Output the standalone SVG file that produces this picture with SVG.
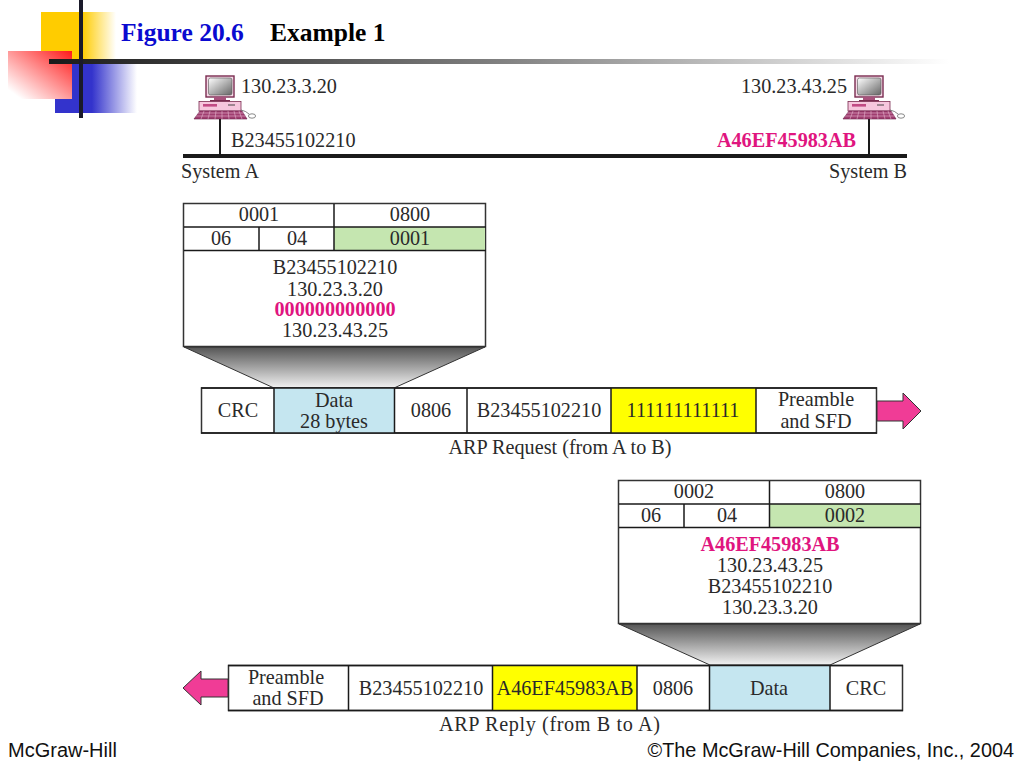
<svg xmlns="http://www.w3.org/2000/svg" width="1024" height="768" viewBox="0 0 1024 768">
<style>
text{font-family:"Liberation Serif","Times New Roman",serif;font-size:20.2px;fill:#2a2a2a}
.m{text-anchor:middle}
.e{text-anchor:end}
.p{fill:#e0157f;font-weight:bold}
.s{font-family:"Liberation Sans",Arial,sans-serif;font-size:20px;fill:#111}
.t{font-size:25.5px;font-weight:bold}
.c{fill:#fff;stroke:#333;stroke-width:1.5}
.ln{stroke:#1a1a1a;fill:none}
</style>
<defs>
<linearGradient id="gy"><stop offset="0.55" stop-color="#ffcc00"/><stop offset="1" stop-color="#ffcc00" stop-opacity="0"/></linearGradient>
<linearGradient id="gb"><stop offset="0.45" stop-color="#3333cc"/><stop offset="1" stop-color="#3333cc" stop-opacity="0"/></linearGradient>
<linearGradient id="gr" x1="1" y1="0" x2="0" y2="1"><stop offset="0" stop-color="#ff1a1a"/><stop offset="0.9" stop-color="#ff1a1a" stop-opacity="0"/></linearGradient>
<linearGradient id="gl"><stop offset="0" stop-color="#1a1a1a"/><stop offset="0.5" stop-color="#808080"/><stop offset="1" stop-color="#fff"/></linearGradient>
<linearGradient id="gf" x1="0" y1="0" x2="0" y2="1"><stop offset="0" stop-color="#555"/><stop offset="1" stop-color="#f2f2f2"/></linearGradient>
<linearGradient id="gs" x1="0" y1="0" x2="1" y2="1"><stop offset="0" stop-color="#fff"/><stop offset="1" stop-color="#666"/></linearGradient>
<g id="pc">
<rect x="11" y="0" width="28" height="21" fill="#f5d9e6" stroke="#7a2c50" stroke-width="1.400"/>
<rect x="13.500" y="2" width="23.500" height="17" rx="2" fill="url(#gs)" stroke="#555" stroke-width="0.6"/>
<rect x="19" y="21" width="12" height="3" fill="#a8527c"/>
<rect x="15" y="24" width="20" height="1.600" fill="#7a2c50"/>
<rect x="4" y="25.500" width="42" height="9.500" fill="#f6c6dd" stroke="#7a2c50" stroke-width="0.8"/>
<rect x="8" y="28" width="14" height="2.600" fill="#c24a84"/>
<path d="M33 29h7" stroke="#444" stroke-width="1"/>
<path d="M5 35h42l5 8H-1z" fill="#a03e70" stroke="#6a2048" stroke-width="0.6"/>
<path d="M3 37h46M1 40h50M9 35l-3 8M15 35l-2 8M21 35l-1 8M27 35v8M33 35l1 8M39 35l2 8M44 35l3 8" stroke="#f0c8dc" stroke-width="0.5"/>
<path d="M46 34q5 1 8 4" stroke="#555" fill="none" stroke-width="0.7"/>
<ellipse cx="57" cy="40" rx="3.600" ry="2.200" fill="#fff" stroke="#555" stroke-width="0.7"/>
</g>
</defs>

<g id="decor">
<rect x="41" y="12" width="75" height="48" fill="url(#gy)"/>
<rect x="55" y="62" width="82" height="51" fill="url(#gb)"/>
<rect x="8" y="51" width="64" height="48" fill="#fff"/>
<rect x="8" y="51" width="64" height="48" fill="url(#gr)"/>
<rect x="49" y="59" width="900" height="5" fill="url(#gl)"/>
<rect x="79" y="0" width="4" height="118" fill="#1a1a2a"/>
</g>

<text id="title1" class="t" x="121" y="41" style="fill:#0a0ad0">Figure 20.6</text>
<text id="title2" class="t" x="270" y="41" style="fill:#000">Example 1</text>

<g id="connectors">
<path class="ln" stroke-width="4" d="M183 156H907"/>
<path class="ln" stroke-width="2" d="M220 119V156M869 119V156"/>
</g>

<g id="system-a">
<use href="#pc" x="195" y="76"/>
<text x="241" y="93">130.23.3.20</text>
<text x="231" y="147">B23455102210</text>
<text x="181" y="178">System A</text>
</g>
<g id="system-b">
<use href="#pc" x="844" y="76"/>
<text x="847" y="93" class="e">130.23.43.25</text>
<text x="856" y="147" class="e p">A46EF45983AB</text>
<text x="907" y="178" class="e">System B</text>
</g>

<g id="request-packet">
<path d="M184 347H485L394 388H274Z" fill="url(#gf)" stroke="#333" stroke-width="1"/>
<rect class="c" x="183.500" y="203.500" width="302" height="143"/>
<rect x="334" y="227" width="151" height="23" fill="#c5e6b0"/>
<path class="ln" stroke-width="1.500" d="M184 227H486M184 250.500H486M334 204V250M259 227V250"/>
<text class="m" x="259" y="221">0001</text>
<text class="m" x="410" y="221">0800</text>
<text class="m" x="221" y="245">06</text>
<text class="m" x="297" y="245">04</text>
<text class="m" x="410" y="245">0001</text>
<text class="m" x="335" y="274">B23455102210</text>
<text class="m" x="335" y="296">130.23.3.20</text>
<text class="m p" x="335" y="316">000000000000</text>
<text class="m" x="335" y="337">130.23.43.25</text>
</g>

<g id="request-frame">
<rect class="c" x="201.500" y="388" width="675" height="45"/>
<rect x="274" y="388" width="120" height="45" fill="#c5e6f0"/>
<rect x="611" y="388" width="145" height="45" fill="#ffff00"/>
<path class="ln" stroke-width="1.500" d="M201 388H877M201 433H877M274 388V433M394.500 388V433M467 388V433M611 388V433M756 388V433"/>
<text class="m" x="238" y="417">CRC</text>
<text class="m" x="334" y="407">Data</text>
<text class="m" x="334" y="428">28 bytes</text>
<text class="m" x="431" y="417">0806</text>
<text class="m" x="539" y="417">B23455102210</text>
<text class="m" x="683" y="417">111111111111</text>
<text class="m" x="816" y="406">Preamble</text>
<text class="m" x="816" y="428">and SFD</text>
<path d="M877 401H903V393L921 411L903 429V421H877Z" fill="#f03c96" stroke="#333" stroke-width="1"/>
<text class="m" x="560" y="454">ARP Request (from A to B)</text>
</g>

<g id="reply-packet">
<path d="M619 624H920L830 665H710Z" fill="url(#gf)" stroke="#333" stroke-width="1"/>
<rect class="c" x="618.500" y="480.500" width="302" height="143"/>
<rect x="770" y="504" width="150" height="23" fill="#c5e6b0"/>
<path class="ln" stroke-width="1.500" d="M619 504H921M619 527.500H921M769.500 481V527M684 504V527"/>
<text class="m" x="694" y="498">0002</text>
<text class="m" x="845" y="498">0800</text>
<text class="m" x="651" y="522">06</text>
<text class="m" x="727" y="522">04</text>
<text class="m" x="845" y="522">0002</text>
<text class="m p" x="770" y="551">A46EF45983AB</text>
<text class="m" x="770" y="572">130.23.43.25</text>
<text class="m" x="770" y="593">B23455102210</text>
<text class="m" x="770" y="614">130.23.3.20</text>
</g>

<g id="reply-frame">
<rect class="c" x="228.500" y="665.500" width="674" height="45"/>
<rect x="493" y="666" width="144" height="44" fill="#ffff00"/>
<rect x="710" y="666" width="120" height="44" fill="#c5e6f0"/>
<path class="ln" stroke-width="1.500" d="M228 665.500H903M228 710.500H903M348.500 665V711M492.500 665V711M637 665V711M709.500 665V711M830 665V711"/>
<text class="m" x="286" y="684">Preamble</text>
<text class="m" x="288" y="705">and SFD</text>
<text class="m" x="421" y="695">B23455102210</text>
<text class="m" x="565" y="695">A46EF45983AB</text>
<text class="m" x="673" y="695">0806</text>
<text class="m" x="769" y="695">Data</text>
<text class="m" x="866" y="695">CRC</text>
<path d="M228 679H201V671L183 688L201 705V697H228Z" fill="#f03c96" stroke="#333" stroke-width="1"/>
<text x="439" y="731" textLength="221">ARP Reply (from B to A)</text>
</g>

<text id="footer-left" class="s" x="8" y="757">McGraw-Hill</text>
<text id="footer-right" class="s e" x="1014" y="757" style="font-size:19.85px">©The McGraw-Hill Companies, Inc., 2004</text>
</svg>
